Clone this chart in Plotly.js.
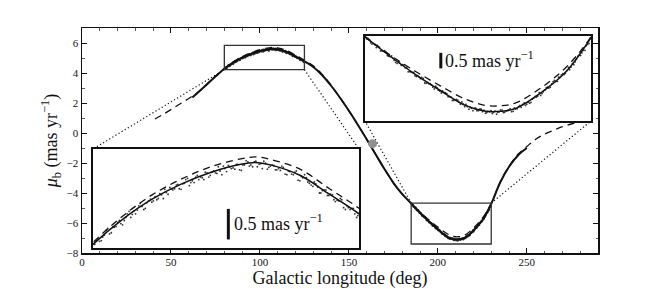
<!DOCTYPE html>
<html><head><meta charset="utf-8">
<script src="https://cdn.plot.ly/plotly-3.0.1.min.js"></script>
<style>html,body{margin:0;padding:0;background:#fff}#chart{width:664px;height:289px}</style>
</head><body><div id="chart"></div><script>
// ---- data ----
const solidL = [62,65,70,75,80,85,90,95,100,105,107.5,110,115,120,125,130,135,140,145,150,155,160,165,170,175,180,185,190,195,200,205,209,212,215,220,225,230,235,240,245,250];
const solidMu = [2.36,2.68,3.22,3.76,4.28,4.69,5.02,5.27,5.46,5.59,5.62,5.58,5.41,5.10,4.78,4.40,3.85,3.15,2.35,1.48,0.55,-0.42,-1.42,-2.40,-3.32,-4.08,-4.70,-5.32,-5.90,-6.42,-6.90,-7.09,-7.09,-7.00,-6.50,-5.82,-4.72,-3.30,-2.25,-1.50,-1.00];

const dashL = [41,45,50,55,60,65,70,75,80,85,90,95,100,105,107.5,110,115,120,125,130,135,140,145,150,155,160,165,170,175,180,185,190,195,200,205,209,212,215,220,225,230,235,240,245,250,255,260,265,270,275,280,285];
const dashMu = [0.93,1.20,1.56,1.93,2.30,2.70,3.24,3.78,4.31,4.74,5.09,5.35,5.55,5.68,5.71,5.67,5.51,5.19,4.87,4.48,3.90,3.18,2.36,1.48,0.55,-0.42,-1.42,-2.40,-3.32,-4.08,-4.69,-5.28,-5.80,-6.27,-6.70,-6.90,-6.91,-6.82,-6.34,-5.68,-4.70,-3.28,-2.22,-1.42,-0.90,-0.42,-0.08,0.18,0.42,0.60,0.72,0.82];

// measured stars, first zoom region
const ptsL1 = [80.3,80.8,81.4,81.9,82.5,83.1,83.6,84.2,84.7,85.3,85.8,86.4,86.9,87.5,88.0,88.6,89.1,89.7,90.2,90.8,91.3,91.9,92.4,93.0,93.5,94.1,94.6,95.2,95.7,96.3,96.8,97.4,97.9,98.5,99.0,99.6,100.1,100.7,101.2,101.8,102.3,102.9,103.4,104.0,104.5,105.1,105.6,106.2,106.7,107.3,107.8,108.4,108.9,109.5,110.0,110.6,111.1,111.7,112.2,112.8,113.3,113.9,114.4,115.0,115.5,116.1,116.6,117.2,117.7,118.3,118.8,119.4,119.9,120.5,121.0,121.6,122.1,122.7,123.2,123.8,124.3,124.8,
  80.55,81.1,81.65,82.2,82.8,83.35,83.9,84.45,85.0,85.55,86.1,86.65,87.2,87.75,88.3,88.85,89.4,89.95,90.5,91.05,91.6,92.15,92.7,93.25,93.8,94.35,94.9,95.45,96.0,96.55,97.1,97.65,98.2,98.75,99.3,99.85,100.4,100.95,101.5,102.05,102.6,103.15,103.7,104.25,104.8,105.35,105.9,106.45,107.0,107.55,108.1,108.65,109.2,109.75,110.3,110.85,111.4,111.95,112.5,113.05,113.6,114.15,114.7,115.25,115.8,116.35,116.9,117.45,118.0,118.55,119.1,119.65,120.2,120.75,121.3,121.85,122.4,122.95,123.5,124.05,124.6];
const ptsMu1 = [4.28,4.37,4.34,4.43,4.54,4.47,4.56,4.64,4.62,4.67,4.78,4.72,4.82,4.84,4.95,4.85,4.96,5.02,4.99,5.01,5.11,5.03,5.13,5.21,5.17,5.25,5.19,5.27,5.34,5.24,5.32,5.38,5.34,5.37,5.46,5.38,5.46,5.45,5.55,5.42,5.52,5.57,5.52,5.51,5.59,5.49,5.58,5.63,5.58,5.63,5.55,5.60,5.64,5.51,5.56,5.57,5.50,5.49,5.54,5.42,5.47,5.42,5.48,5.32,5.37,5.37,5.28,5.23,5.27,5.12,5.16,5.17,5.08,5.09,4.98,4.99,5.01,4.85,4.88,4.87,4.78,4.75,
  4.34,4.33,4.40,4.51,4.45,4.56,4.57,4.67,4.60,4.72,4.82,4.77,4.78,4.91,4.90,4.87,4.99,4.97,5.06,5.03,5.09,5.18,5.10,5.19,5.19,5.26,5.18,5.28,5.36,5.29,5.29,5.41,5.38,5.34,5.45,5.41,5.48,5.44,5.48,5.56,5.47,5.55,5.53,5.59,5.50,5.58,5.65,5.56,5.55,5.64,5.59,5.52,5.61,5.54,5.58,5.50,5.52,5.56,5.43,5.48,5.43,5.46,5.33,5.39,5.42,5.30,5.25,5.30,5.22,5.12,5.17,5.08,5.10,5.01,5.00,5.03,4.88,4.91,4.85,4.87,4.72];

// measured stars, second zoom region
const ptsL2 = [185.3,185.9,186.4,187.0,187.5,188.1,188.6,189.2,189.7,190.3,190.8,191.4,191.9,192.5,193.0,193.6,194.1,194.7,195.2,195.8,196.3,196.9,197.4,198.0,198.5,199.1,199.6,200.2,200.7,201.3,201.8,202.4,202.9,203.5,204.0,204.6,205.1,205.7,206.2,206.8,207.3,207.9,208.4,209.0,209.5,210.1,210.6,211.2,211.7,212.3,212.8,213.4,213.9,214.5,215.0,215.6,216.1,216.7,217.2,217.8,218.3,218.9,219.4,220.0,220.5,221.1,221.6,222.2,222.7,223.3,223.8,224.4,224.9,225.5,226.0,226.6,227.1,227.7,228.2,228.8,229.3,229.8,
  185.6,186.15,186.7,187.25,187.8,188.35,188.9,189.45,190.0,190.55,191.1,191.65,192.2,192.75,193.3,193.85,194.4,194.95,195.5,196.05,196.6,197.15,197.7,198.25,198.8,199.35,199.9,200.45,201.0,201.55,202.1,202.65,203.2,203.75,204.3,204.85,205.4,205.95,206.5,207.05,207.6,208.15,208.7,209.25,209.8,210.35,210.9,211.45,212.0,212.55,213.1,213.65,214.2,214.75,215.3,215.85,216.4,216.95,217.5,218.05,218.6,219.15,219.7,220.25,220.8,221.35,221.9,222.45,223.0,223.55,224.1,224.65,225.2,225.75,226.3,226.85,227.4,227.95,228.5,229.05,229.6];
const ptsMu2 = [-4.76,-4.79,-4.93,-4.95,-4.97,-5.15,-5.16,-5.20,-5.32,-5.31,-5.45,-5.55,-5.54,-5.59,-5.69,-5.82,-5.82,-5.84,-5.97,-5.99,-6.00,-6.18,-6.17,-6.20,-6.31,-6.28,-6.41,-6.50,-6.48,-6.52,-6.62,-6.74,-6.72,-6.73,-6.86,-6.86,-6.87,-7.02,-6.99,-6.99,-7.07,-7.01,-7.10,-7.15,-7.09,-7.07,-7.12,-7.18,-7.11,-7.05,-7.12,-7.06,-7.00,-7.09,-7.01,-6.94,-6.96,-6.82,-6.86,-6.83,-6.70,-6.61,-6.60,-6.58,-6.46,-6.33,-6.34,-6.21,-6.10,-6.13,-6.00,-5.88,-5.87,-5.68,-5.67,-5.59,-5.42,-5.28,-5.21,-5.13,-4.94,-4.75,
  -4.75,-4.89,-4.91,-5.04,-5.03,-5.14,-5.14,-5.30,-5.33,-5.38,-5.52,-5.49,-5.61,-5.60,-5.68,-5.81,-5.84,-5.95,-5.94,-6.04,-6.03,-6.19,-6.20,-6.24,-6.37,-6.33,-6.44,-6.43,-6.49,-6.62,-6.63,-6.74,-6.71,-6.80,-6.79,-6.94,-6.94,-6.96,-7.07,-6.99,-7.07,-7.02,-7.05,-7.13,-7.10,-7.16,-7.08,-7.12,-7.04,-7.13,-7.08,-7.04,-7.10,-6.98,-7.01,-6.90,-6.87,-6.90,-6.80,-6.80,-6.66,-6.63,-6.49,-6.52,-6.41,-6.31,-6.32,-6.14,-6.13,-5.99,-5.92,-5.91,-5.78,-5.75,-5.56,-5.50,-5.32,-5.30,-5.13,-4.98,-4.91];

const markL = [163.3];
const markMu = [-0.71];

const xTickVals = [0,50,100,150,200,250];
const yTickVals = [-8,-6,-4,-2,0,2,4,6];

const zoom1X = [80,125], zoom1Y = [4.22,5.84];
const zoom2X = [185,230], zoom2Y = [-7.4,-4.67];
const scaleLen = 0.5;
const scaleLabel = '0.5 mas yr<sup>−1</sup>';
const bar1 = {x: 102.9, y: 4.36};
const bar2 = {x: 200.1, y: -5.71};

// ---- layout geometry ----
const mainX = [0,290], mainY = [-8,7];
const in1 = {x:[0.0213,0.5368], y:[0.0222,0.4622]};
const in2 = {x:[0.5484,0.9864], y:[0.5867,0.9644]};
const toMainX = p => mainX[0] + p*(mainX[1]-mainX[0]);
const toMainY = p => mainY[0] + p*(mainY[1]-mainY[0]);

const serif = 'Liberation Serif, Times New Roman, serif';
const ink = '#111';

// connectors from zoom rectangles to inset corners
const conn = [
  [[zoom1X[0], toMainX(in1.x[0])],[zoom1Y[0], toMainY(in1.y[1])]],
  [[zoom1X[1], toMainX(in1.x[1])],[zoom1Y[0], toMainY(in1.y[1])]],
  [[zoom2X[0], toMainX(in2.x[0])],[zoom2Y[1], toMainY(in2.y[0])]],
  [[zoom2X[1], toMainX(in2.x[1])],[zoom2Y[1], toMainY(in2.y[0])]]
];

const traces = [];
conn.forEach(c => traces.push({x:c[0], y:c[1], mode:'lines', xaxis:'x', yaxis:'y',
  line:{color:ink, width:1.2, dash:'1.2px,2.4px'}, hoverinfo:'skip'}));

function curves(xa, ya, main) {
  traces.push({x:ptsL1, y:ptsMu1, mode:'markers', xaxis:xa, yaxis:ya,
    marker:{color:'#333', size: main ? 2 : 1.8}, hoverinfo:'skip'});
  traces.push({x:ptsL2, y:ptsMu2, mode:'markers', xaxis:xa, yaxis:ya,
    marker:{color:'#333', size: main ? 2 : 1.8}, hoverinfo:'skip'});
  traces.push({x:dashL, y:dashMu, mode:'lines', xaxis:xa, yaxis:ya,
    line:{color:ink, width:1.3, dash:'7px,5px', shape:'spline'}, hoverinfo:'skip'});
  traces.push({x:solidL, y:solidMu, mode:'lines', xaxis:xa, yaxis:ya,
    line:{color:ink, width: main ? 2.0 : 1.5, shape:'spline'}, hoverinfo:'skip'});
}
curves('x','y',true);
traces.push({x:markL, y:markMu, mode:'markers', xaxis:'x', yaxis:'y',
  marker:{color:'#8f8f8f', size:9}, hoverinfo:'skip'});
curves('x2','y2',false);
curves('x3','y3',false);

const insetAxis = (dom, rng, anchor) => ({domain:dom, range:rng, anchor:anchor,
  showticklabels:false, ticks:'', showgrid:false, zeroline:false,
  showline:true, mirror:true, linecolor:ink, linewidth:1.6, fixedrange:true});

const layout = {
  width:664, height:289, showlegend:false,
  paper_bgcolor:'#fff', plot_bgcolor:'#fff',
  margin:{l:82, r:66, t:28, b:36},
  font:{family:serif, color:ink},
  xaxis:{domain:[0,1], range:mainX, anchor:'y', tickvals:xTickVals,
    ticks:'inside', ticklen:5, tickwidth:1, tickcolor:ink, ticklabelstandoff:-2,
    minor:{ticks:'inside', ticklen:2.5, tickwidth:0.8, dtick:10, tick0:0, tickcolor:'#333'},
    showline:true, mirror:'allticks', linecolor:ink, linewidth:1.5,
    showgrid:false, zeroline:false, tickfont:{family:serif, size:11, color:ink},
    title:{text:'Galactic longitude (deg)', font:{family:serif, size:18, color:ink}, standoff:0}},
  yaxis:{domain:[0,1], range:mainY, anchor:'x', tickvals:yTickVals,
    ticks:'inside', ticklen:5, tickwidth:1, tickcolor:ink,
    minor:{ticks:'inside', ticklen:2.5, tickwidth:0.8, dtick:1, tick0:0, tickcolor:'#333'},
    showline:true, mirror:'allticks', linecolor:ink, linewidth:1.5,
    showgrid:false, zeroline:false, tickfont:{family:serif, size:11, color:ink},
    title:{text:'<i>μ</i><sub>b</sub> (mas yr<sup>−1</sup>)', font:{family:serif, size:18, color:ink}, standoff:4}},
  xaxis2: insetAxis(in1.x, zoom1X, 'y2'),
  yaxis2: insetAxis(in1.y, zoom1Y, 'x2'),
  xaxis3: insetAxis(in2.x, zoom2X, 'y3'),
  yaxis3: insetAxis(in2.y, zoom2Y, 'x3'),
  shapes:[
    {type:'rect', xref:'x', yref:'y', x0:zoom1X[0], x1:zoom1X[1], y0:zoom1Y[0], y1:zoom1Y[1], line:{color:'#333', width:1.3}},
    {type:'rect', xref:'x', yref:'y', x0:zoom2X[0], x1:zoom2X[1], y0:zoom2Y[0], y1:zoom2Y[1], line:{color:'#333', width:1.3}},
    {type:'line', xref:'x2', yref:'y2', x0:bar1.x, x1:bar1.x, y0:bar1.y, y1:bar1.y+scaleLen, line:{color:ink, width:3}},
    {type:'line', xref:'x3', yref:'y3', x0:bar2.x, x1:bar2.x, y0:bar2.y, y1:bar2.y+scaleLen, line:{color:ink, width:3}}
  ],
  annotations:[
    {xref:'x2', yref:'y2', x:bar1.x+0.6, y:bar1.y+scaleLen/2+0.03, text:scaleLabel, showarrow:false,
     xanchor:'left', yanchor:'middle', font:{family:serif, size:18, color:ink}},
    {xref:'x3', yref:'y3', x:bar2.x+0.4, y:bar2.y+scaleLen/2+0.03, text:scaleLabel, showarrow:false,
     xanchor:'left', yanchor:'middle', font:{family:serif, size:18, color:ink}}
  ]
};

Plotly.newPlot('chart', traces, layout, {staticPlot:true, displayModeBar:false});
</script></body></html>
